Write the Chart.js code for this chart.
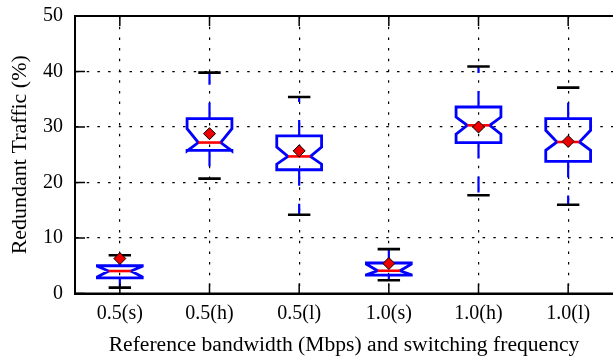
<!DOCTYPE html>
<html>
<head>
<meta charset="utf-8">
<script src="https://cdn.jsdelivr.net/npm/chart.js@4/dist/chart.umd.min.js"></script>
<style>
html,body{margin:0;padding:0;background:#fff;overflow:hidden;}
#wrap{width:613px;height:360px;overflow:hidden;position:relative;}
canvas{display:block;}
</style>
</head>
<body>
<div id="wrap"><canvas id="c" width="620" height="360"></canvas></div>
<script>
// ---- data ----
const categories = ["0.5(s)", "0.5(h)", "0.5(l)", "1.0(s)", "1.0(h)", "1.0(l)"];
const whiskerLow  = [1.05, 20.7, 14.2, 2.4, 17.7, 16.0];
const q1Values    = [2.8, 25.8, 22.3, 3.3, 27.2, 23.8];
const notchLow    = [3.0, 25.7, 23.3, 3.4, 28.7, 25.8];
const medians     = [4.05, 27.2, 24.7, 4.1, 30.3, 27.3];
const notchHigh   = [4.9, 29.7, 26.4, 5.3, 31.8, 29.4];
const q3Values    = [5.0, 31.5, 28.4, 5.5, 33.6, 31.5];
const whiskerHigh = [6.9, 39.8, 35.4, 8.0, 40.9, 37.1];
const means       = [6.3, 28.8, 25.7, 5.4, 30.0, 27.4];
const yTicks      = [0, 10, 20, 30, 40, 50];

const FONT = "'Liberation Serif', 'Times New Roman', serif";

const boxPlugin = {
  id: 'boxes',
  beforeDatasetsDraw(chart) {
    const {ctx, scales: {x, y}} = chart;
    ctx.save();
    ctx.lineJoin = 'miter';
    for (let i = 0; i < categories.length; i++) {
      const L = x.getPixelForValue(i - 0.25), R = x.getPixelForValue(i + 0.25);
      const cL = x.getPixelForValue(i - 0.125), cR = x.getPixelForValue(i + 0.125);
      const cx = x.getPixelForValue(i);
      const yq1 = y.getPixelForValue(q1Values[i]), yq3 = y.getPixelForValue(q3Values[i]);
      const ynl = y.getPixelForValue(notchLow[i]), ynh = y.getPixelForValue(notchHigh[i]);
      const ym = y.getPixelForValue(medians[i]);
      const ywl = y.getPixelForValue(whiskerLow[i]), ywh = y.getPixelForValue(whiskerHigh[i]);
      // whiskers (dashed, from box outward)
      ctx.strokeStyle = '#0000ff';
      ctx.lineWidth = 2.2;
      ctx.setLineDash([16, 18]);
      ctx.beginPath(); ctx.moveTo(cx, yq3); ctx.lineTo(cx, ywh); ctx.stroke();
      ctx.beginPath(); ctx.moveTo(cx, yq1); ctx.lineTo(cx, ywl); ctx.stroke();
      ctx.setLineDash([]);
      // caps
      ctx.strokeStyle = '#000';
      ctx.lineWidth = 2.6;
      ctx.beginPath();
      ctx.moveTo(cL, ywh); ctx.lineTo(cR, ywh);
      ctx.moveTo(cL, ywl); ctx.lineTo(cR, ywl);
      ctx.stroke();
      // notched box
      const px = [L, R, R, cR, R, R, L, L, cL, L, L];
      const py = [yq1, yq1, ynl, ym, ynh, yq3, yq3, ynh, ym, ynl, yq1];
      ctx.strokeStyle = '#0000ff';
      ctx.lineWidth = 2.8;
      ctx.beginPath();
      ctx.moveTo(px[0], py[0]);
      for (let k = 1; k < px.length; k++) ctx.lineTo(px[k], py[k]);
      ctx.closePath();
      ctx.stroke();
      // median
      ctx.strokeStyle = '#ff0000';
      ctx.lineWidth = 2.6;
      ctx.beginPath(); ctx.moveTo(cL, ym); ctx.lineTo(cR, ym); ctx.stroke();
    }
    ctx.restore();
  },
  afterDraw(chart) {
    const {ctx, chartArea: a, scales: {x, y}} = chart;
    ctx.save();
    ctx.strokeStyle = '#000';
    ctx.lineWidth = 1.5;
    const tl = 10;
    ctx.beginPath();
    y.ticks.forEach((t, i) => {
      const py = y.getPixelForTick(i);
      ctx.moveTo(a.left, py); ctx.lineTo(a.left + tl, py);
    });
    x.ticks.forEach((t, i) => {
      const px = x.getPixelForTick(i);
      ctx.moveTo(px, a.bottom); ctx.lineTo(px, a.bottom - tl);
      ctx.moveTo(px, a.top); ctx.lineTo(px, a.top + tl);
    });
    ctx.stroke();
    ctx.lineWidth = 2;
    ctx.beginPath();
    ctx.moveTo(a.left, a.top); ctx.lineTo(a.right + 1, a.top);
    ctx.moveTo(a.left, a.bottom); ctx.lineTo(a.right + 1, a.bottom);
    ctx.stroke();
    ctx.restore();
  }
};

new Chart(document.getElementById('c'), {
  type: 'line',
  data: {
    labels: categories,
    datasets: [{
      label: 'Mean',
      data: means,
      showLine: false,
      pointStyle: 'rectRot',
      pointRadius: 6,
      pointHoverRadius: 6,
      pointBackgroundColor: '#ee0000',
      pointBorderColor: '#000',
      pointBorderWidth: 1
    }]
  },
  options: {
    responsive: false,
    animation: false,
    events: [],
    layout: {padding: {left: 0, right: 5, top: 16, bottom: 0}},
    plugins: {legend: {display: false}, tooltip: {enabled: false}},
    scales: {
      x: {
        type: 'category',
        offset: true,
        grid: {offset: false, color: '#000', lineWidth: 1.2, drawTicks: false},
        border: {display: true, color: '#000', width: 2, dash: [2.5, 8.2]},
        ticks: {color: '#000', font: {family: FONT, size: 20}, padding: 8, maxRotation: 0},
        title: {display: true, text: 'Reference bandwidth (Mbps) and switching frequency',
                color: '#000', font: {family: FONT, size: 21.6}, padding: {top: 2, bottom: 2}},
        afterFit(s) { s.height = 66.5; s.paddingLeft = 0; s.paddingRight = 0; }
      },
      y: {
        min: 0, max: 50,
        afterBuildTicks(s) { s.ticks = yTicks.map(v => ({value: v})); },
        grid: {color: '#000', lineWidth: 1.2, drawTicks: false},
        border: {display: true, color: '#000', width: 2, dash: [2.5, 8.2]},
        ticks: {color: '#000', font: {family: FONT, size: 20}, padding: 12},
        title: {display: true, text: 'Redundant Traffic (%)', color: '#000',
                font: {family: FONT, size: 22}, padding: {top: 7, bottom: 2}},
        afterFit(s) { s.width = 75; s.paddingTop = 0; s.paddingBottom = 0; }
      }
    }
  },
  plugins: [boxPlugin]
});
</script>
</body>
</html>
